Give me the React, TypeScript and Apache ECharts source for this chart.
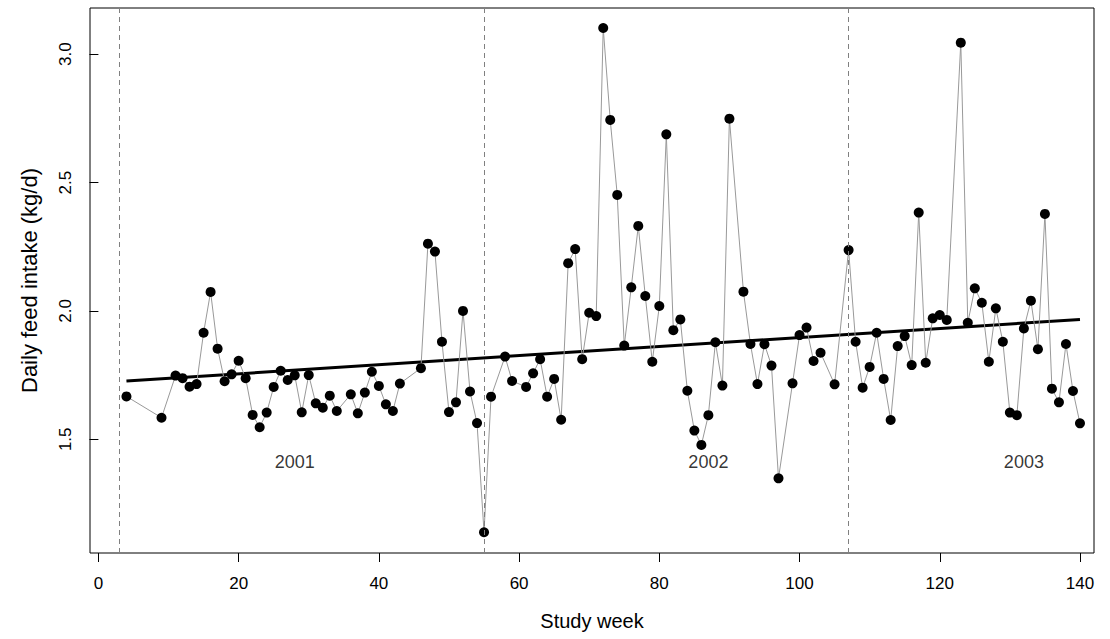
import React, { useEffect, useRef } from "react";
import * as echarts from "echarts";

const weeks = [4, 9, 11, 12, 13, 14, 15, 16, 17, 18, 19, 20, 21, 22, 23, 24, 25, 26, 27, 28, 29, 30, 31, 32, 33, 34, 36, 37, 38, 39, 40, 41, 42, 43, 46, 47, 48, 49, 50, 51, 52, 53, 54, 55, 56, 58, 59, 61, 62, 63, 64, 65, 66, 67, 68, 69, 70, 71, 72, 73, 74, 75, 76, 77, 78, 79, 80, 81, 82, 83, 84, 85, 86, 87, 88, 89, 90, 92, 93, 94, 95, 96, 97, 99, 100, 101, 102, 103, 105, 107, 108, 109, 110, 111, 112, 113, 114, 115, 116, 117, 118, 119, 120, 121, 123, 124, 125, 126, 127, 128, 129, 130, 131, 132, 133, 134, 135, 136, 137, 138, 139, 140];
const intake = [1.667, 1.584, 1.748, 1.738, 1.705, 1.715, 1.915, 2.074, 1.853, 1.726, 1.753, 1.806, 1.738, 1.595, 1.547, 1.604, 1.704, 1.767, 1.731, 1.749, 1.605, 1.75, 1.64, 1.623, 1.67, 1.61, 1.675, 1.601, 1.682, 1.763, 1.708, 1.636, 1.61, 1.717, 1.777, 2.262, 2.231, 1.88, 1.606, 1.644, 2.0, 1.686, 1.563, 1.138, 1.666, 1.822, 1.727, 1.704, 1.757, 1.812, 1.666, 1.735, 1.576, 2.186, 2.241, 1.812, 1.993, 1.98, 3.102, 2.744, 2.452, 1.865, 2.092, 2.331, 2.058, 1.802, 2.019, 2.688, 1.925, 1.967, 1.689, 1.534, 1.478, 1.594, 1.878, 1.709, 2.749, 2.075, 1.871, 1.715, 1.87, 1.787, 1.348, 1.718, 1.906, 1.935, 1.805, 1.837, 1.714, 2.237, 1.88, 1.701, 1.782, 1.915, 1.735, 1.575, 1.863, 1.902, 1.789, 2.383, 1.798, 1.971, 1.984, 1.965, 3.045, 1.954, 2.088, 2.032, 1.802, 2.01, 1.88, 1.604, 1.594, 1.932, 2.04, 1.851, 2.378, 1.697, 1.644, 1.871, 1.688, 1.562];

const trendWeeks = [4, 140];
const trendValues = [1.727, 1.967];

const yearBoundaries = [3, 55, 107];
const yearNames = ["2001", "2002", "2003"];
const yearLabelWeeks = [28, 87, 132];
const yearLabelValue = 1.41;

const xTicks = [0, 20, 40, 60, 80, 100, 120, 140];
const yTicks = [1.5, 2.0, 2.5, 3.0];

const FONT = "'Liberation Sans', Arial, Helvetica, sans-serif";

export default function App() {
  const ref = useRef<HTMLDivElement>(null);
  useEffect(() => {
    if (!ref.current) return;
    const chart = echarts.init(ref.current, undefined, { renderer: "svg" });
    chart.setOption({
      animation: false,
      backgroundColor: "#fff",
      textStyle: { fontFamily: FONT },
      grid: {
        left: 90,
        right: 16,
        top: 8,
        bottom: 86,
        show: true,
        borderColor: "#000",
        borderWidth: 1,
        backgroundColor: "transparent",
      },
      xAxis: {
        type: "value",
        min: -1.2,
        max: 142,
        name: "Study week",
        nameLocation: "middle",
        nameGap: 58,
        nameTextStyle: { fontSize: 20, color: "#000", fontFamily: FONT },
        axisLine: { show: false },
        axisTick: { show: true, length: 9, lineStyle: { color: "#000" }, customValues: xTicks },
        axisLabel: { fontSize: 17, color: "#000", margin: 22, fontFamily: FONT, customValues: xTicks },
        splitLine: { show: false },
      },
      yAxis: {
        type: "value",
        min: 1.057,
        max: 3.18,
        name: "Daily feed intake (kg/d)",
        nameLocation: "middle",
        nameGap: 50,
        nameRotate: 90,
        nameTextStyle: { fontSize: 22, color: "#000", fontFamily: FONT },
        axisLine: { show: false },
        axisTick: { show: true, length: 9, lineStyle: { color: "#000" }, customValues: yTicks },
        axisLabel: {
          fontSize: 17,
          color: "#000",
          margin: 16,
          rotate: 90,
          fontFamily: FONT,
          customValues: yTicks,
          formatter: (v: number) => v.toFixed(1),
        },
        splitLine: { show: false },
      },
      series: [
        {
          type: "line",
          data: trendWeeks.map((w, i) => [w, trendValues[i]]),
          symbol: "none",
          lineStyle: { color: "#000", width: 3 },
          silent: true,
          z: 2,
          markLine: {
            silent: true,
            symbol: ["none", "none"],
            label: { show: false },
            lineStyle: { color: "#808080", type: [5, 4], width: 1 },
            data: yearBoundaries.map((b) => ({ xAxis: b })),
          },
        },
        {
          type: "line",
          data: weeks.map((w, i) => [w, intake[i]]),
          symbol: "circle",
          symbolSize: 10,
          showAllSymbol: true,
          itemStyle: { color: "#000" },
          lineStyle: { color: "#999", width: 1 },
          z: 3,
        },
        {
          type: "scatter",
          data: yearNames.map((n, i) => ({ name: n, value: [yearLabelWeeks[i], yearLabelValue] })),
          symbolSize: 0,
          label: {
            show: true,
            position: "inside",
            formatter: "{b}",
            fontSize: 18,
            color: "#000",
            fontFamily: FONT,
          },
          silent: true,
          z: 4,
        },
      ],
    });
    return () => chart.dispose();
  }, []);
  return (
    <div
      ref={ref}
      style={{ position: "fixed", left: 0, top: 0, width: 1110, height: 639, background: "#fff" }}
    />
  );
}
